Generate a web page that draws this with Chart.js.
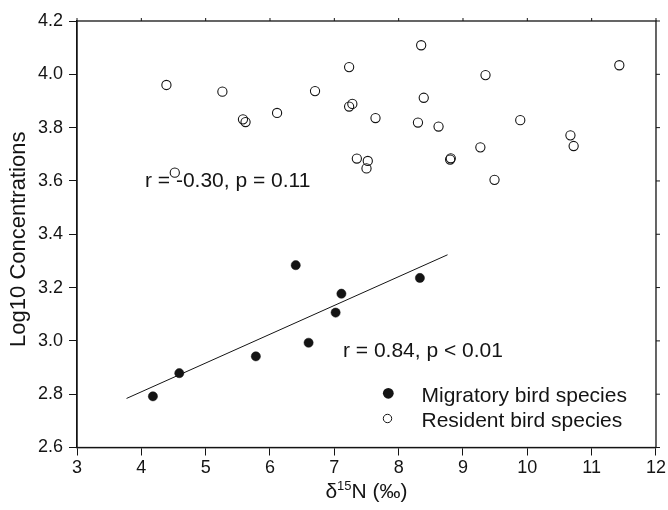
<!DOCTYPE html>
<html>
<head>
<meta charset="utf-8">
<script src="https://cdn.jsdelivr.net/npm/chart.js@4.4.0/dist/chart.umd.min.js"></script>
<style>
  html,body{margin:0;padding:0;background:#fff;}
  #wrap{width:668px;height:510px;}
</style>
</head>
<body>
<div id="wrap"><canvas id="c" width="668" height="510"></canvas></div>
<script>
// δ15N vs log10 concentration
const migratoryX = [4.18, 4.59, 5.78, 6.40, 6.60, 7.02, 7.11, 8.33];
const migratoryY = [2.792, 2.879, 2.942, 3.284, 2.993, 3.106, 3.177, 3.236];

const residentX = [4.39, 4.52, 5.26, 5.58, 5.62, 6.11, 6.70, 7.23, 7.23, 7.28, 7.35, 7.50, 7.52, 7.64,
                   8.30, 8.35, 8.39, 8.62, 8.80, 8.81, 9.27, 9.35, 9.49, 9.89, 10.67, 10.72, 11.43];
const residentY = [3.960, 3.631, 3.935, 3.831, 3.821, 3.855, 3.937, 4.027, 3.879, 3.889, 3.684, 3.647, 3.675, 3.836,
                   3.819, 4.109, 3.912, 3.804, 3.680, 3.685, 3.726, 3.997, 3.604, 3.828, 3.771, 3.731, 4.034];

// fitted line for migratory species (end points as drawn)
const fitX = [3.77, 8.76];
const fitY = [2.784, 3.323];

const xTicks = [3, 4, 5, 6, 7, 8, 9, 10, 11, 12];
const yTicks = [2.6, 2.8, 3.0, 3.2, 3.4, 3.6, 3.8, 4.0, 4.2];

const seriesNames = ['Migratory bird species', 'Resident bird species'];
const notes = ['r = -0.30, p = 0.11', 'r = 0.84, p < 0.01'];

const ink = '#141414';
const FONT = '"Liberation Sans", Arial, Helvetica, sans-serif';

function pts(xs, ys){ return xs.map((x,i)=>({x:x, y:ys[i]})); }

// frame, extra ticks, axis titles, notes and legend
const decor = {
  id:'decor',
  afterDraw(chart){
    const ctx = chart.ctx, a = chart.chartArea;
    const sx = chart.scales.x, sy = chart.scales.y;
    ctx.save();
    ctx.strokeStyle = ink; ctx.lineWidth = 1.3;
    ctx.strokeRect(a.left, a.top, a.right - a.left, a.bottom - a.top);
    ctx.lineWidth = 1;
    ctx.beginPath();
    xTicks.forEach(v=>{ const p = sx.getPixelForValue(v); ctx.moveTo(p, a.top); ctx.lineTo(p, a.top - 3); });
    yTicks.forEach(v=>{ const p = sy.getPixelForValue(v); ctx.moveTo(a.right, p); ctx.lineTo(a.right + 4, p); });
    ctx.stroke();

    ctx.fillStyle = ink;
    // y title
    ctx.save();
    ctx.font = '22px ' + FONT;
    ctx.translate(25, (a.top + a.bottom)/2 + 5);
    ctx.rotate(-Math.PI/2);
    ctx.textAlign = 'center'; ctx.textBaseline = 'alphabetic';
    ctx.fillText('Log10 Concentrations', 0, 0);
    ctx.restore();

    // x title with superscript
    const cx = (a.left + a.right)/2, by = 497.5;
    const parts = [['δ', 21, 0], ['15', 13, -8], ['N (‰)', 21, 0]];
    let total = 0;
    parts.forEach(p=>{ ctx.font = p[1] + 'px ' + FONT; total += ctx.measureText(p[0]).width; });
    let xx = cx - total/2;
    ctx.textAlign = 'left'; ctx.textBaseline = 'alphabetic';
    parts.forEach(p=>{ ctx.font = p[1] + 'px ' + FONT; ctx.fillText(p[0], xx, by + p[2]); xx += ctx.measureText(p[0]).width; });

    // correlation notes
    ctx.font = '21px ' + FONT;
    ctx.fillText(notes[0], 145, 187);
    ctx.fillText(notes[1], 343, 357);

    // legend
    ctx.fillText(seriesNames[0], 421.5, 401.5);
    ctx.fillText(seriesNames[1], 421.5, 426.5);
    ctx.beginPath(); ctx.arc(388.3, 393.3, 5.4, 0, Math.PI*2); ctx.fill();
    ctx.beginPath(); ctx.arc(387.5, 418.5, 4.2, 0, Math.PI*2); ctx.lineWidth = 1; ctx.stroke();
    ctx.restore();
  }
};

new Chart(document.getElementById('c'), {
  type:'scatter',
  data:{
    datasets:[
      {label:seriesNames[0], data:pts(migratoryX, migratoryY), pointRadius:4.6, pointHoverRadius:4.6,
       pointBackgroundColor:ink, pointBorderColor:ink, pointBorderWidth:0.5},
      {label:seriesNames[1], data:pts(residentX, residentY), pointRadius:4.6, pointHoverRadius:4.6,
       pointBackgroundColor:'rgba(0,0,0,0)', pointBorderColor:ink, pointBorderWidth:1.1},
      {type:'line', label:'fit', data:pts(fitX, fitY), borderColor:ink, borderWidth:1,
       pointRadius:0, fill:false, tension:0}
    ]
  },
  options:{
    responsive:false, animation:false,
    layout:{padding:{top:21, right:10, left:0, bottom:0}},
    plugins:{legend:{display:false}, tooltip:{enabled:false}},
    scales:{
      x:{
        type:'linear', min:3, max:12,
        afterBuildTicks:s=>{ s.ticks = xTicks.map(v=>({value:v})); },
        afterFit:s=>{ s.height = 62.5; },
        ticks:{color:ink, font:{family:FONT, size:18}, padding:2, callback:v=>String(v)},
        grid:{drawOnChartArea:false, drawTicks:true, tickLength:8, color:ink, lineWidth:1},
        border:{display:true, color:ink, width:1.3}
      },
      y:{
        type:'linear', min:2.6, max:4.2,
        afterBuildTicks:s=>{ s.ticks = yTicks.map(v=>({value:v})); },
        afterFit:s=>{ s.width = 77; },
        ticks:{color:ink, font:{family:FONT, size:18}, padding:6, callback:v=>Number(v).toFixed(1)},
        grid:{drawOnChartArea:false, drawTicks:true, tickLength:8, color:ink, lineWidth:1},
        border:{display:true, color:ink, width:1.3}
      }
    }
  },
  plugins:[decor]
});
</script>
</body>
</html>
